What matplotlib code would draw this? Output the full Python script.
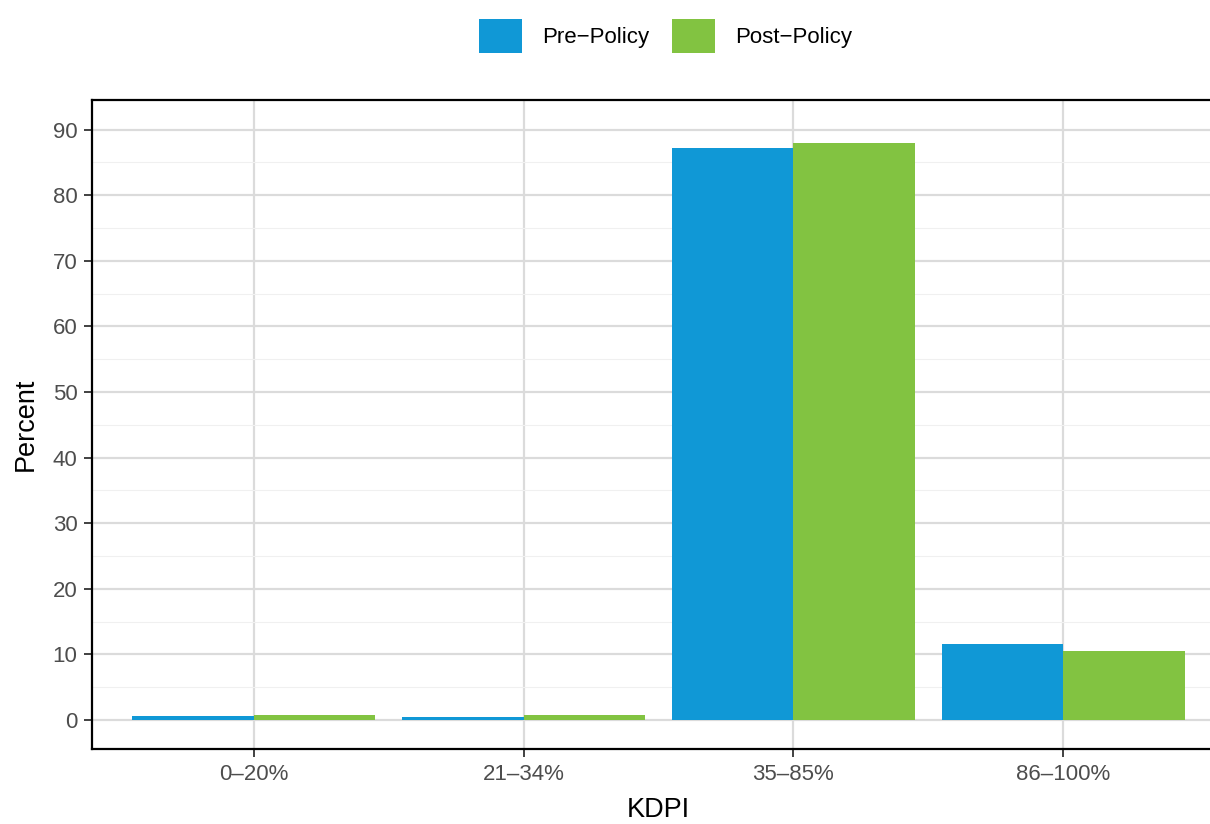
import matplotlib.pyplot as plt
import numpy as np
from matplotlib.ticker import MultipleLocator

plt.rcParams['font.family'] = ['Liberation Sans', 'DejaVu Sans']

categories = ['0–20%', '21–34%', '35–85%', '86–100%']
pre_policy = [0.65, 0.5, 87.2, 11.65]
post_policy = [0.8, 0.8, 87.9, 10.5]
series_names = ['Pre−Policy', 'Post−Policy']
colors = ['#1098D6', '#82C341']

fig = plt.figure(figsize=(12.1, 8.24), dpi=100)
ax = fig.add_axes([92 / 1210, 75 / 824, 1133 / 1210, 649 / 824])

x = np.arange(len(categories))
w = 0.45
ax.bar(x - w / 2, pre_policy, w, color=colors[0], label=series_names[0], zorder=3)
ax.bar(x + w / 2, post_policy, w, color=colors[1], label=series_names[1], zorder=3)

ax.set_xlim(-0.6, 3.6)
ax.set_ylim(-4.42, 94.5)
ax.set_xticks(x)
ax.set_xticklabels(categories)
ax.yaxis.set_major_locator(MultipleLocator(10))
ax.yaxis.set_minor_locator(MultipleLocator(5))

ax.grid(True, which='major', color='#DBDBDB', linewidth=1.6, zorder=0)
ax.grid(True, which='minor', axis='y', color='#F0F0F0', linewidth=0.8, zorder=0)
ax.set_axisbelow(True)

for s in ax.spines.values():
    s.set_color('black')
    s.set_linewidth(1.6)

ax.tick_params(axis='both', which='major', labelsize=16, labelcolor='#4D4D4D',
               color='#333333', length=5.5, width=1.3, pad=5)
ax.tick_params(axis='y', which='minor', length=0)

ax.set_xlabel('KDPI', fontsize=19.5, labelpad=9)
ax.set_ylabel('Percent', fontsize=19.5, labelpad=10)

fig.legend(loc='upper center', bbox_to_anchor=(0.55, 1.0), ncol=2, frameon=False,
           fontsize=16, handlelength=1.95, handleheight=1.95, handletextpad=0.9,
           columnspacing=1.0, borderaxespad=0.45)

fig.savefig('out.png', dpi=100)
